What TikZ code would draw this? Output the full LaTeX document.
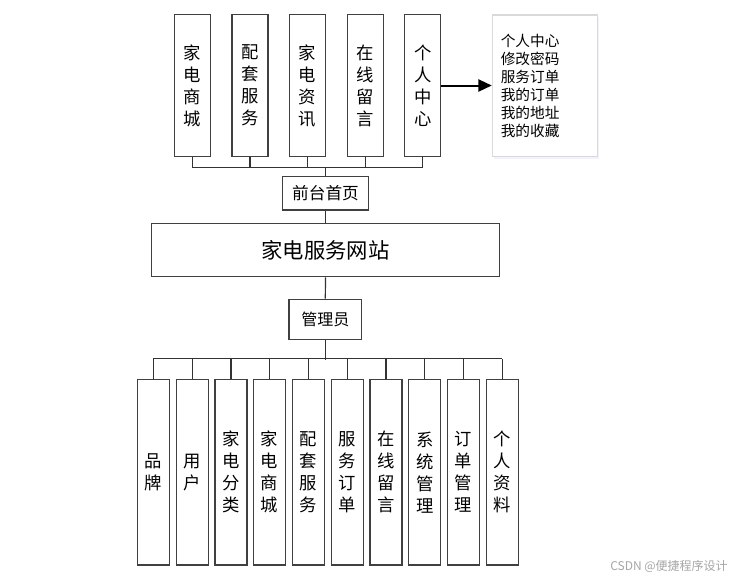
\documentclass[tikz,border=0pt]{standalone}
\usepackage{fontspec}
\newfontfamily\cjk{Noto Sans CJK SC}
\usetikzlibrary{arrows.meta,shadows}

\tikzset{
  line/.style={draw=black!80, line width=0.9pt},
  colbox/.style={draw=black!75, line width=0.9pt, fill=white, align=center, inner sep=0pt,
    font=\cjk\fontsize{13}{16.5}\selectfont},
  topbox/.style={colbox, minimum width=27pt, minimum height=107pt},
  lowbox/.style={colbox, minimum width=24pt, minimum height=139.3pt},
  pagebox/.style={draw=black!75, line width=0.9pt, inner sep=0pt, font=\cjk\fontsize{12.5}{15}\selectfont},
  infobox/.style={draw=black!15, line width=0.9pt, fill=white, drop shadow={opacity=0.12, fill=blue!40, shadow xshift=1.5pt, shadow yshift=-1.5pt},
    text width=66pt, inner xsep=6.3pt, minimum height=106.3pt, align=left,
    font=\cjk\fontsize{11}{13.5}\selectfont},
}

\begin{document}
\begin{tikzpicture}[x=0.75pt,y=-0.75pt]
\useasboundingbox[fill=white] (0,0) rectangle (746,579);

% front end
\node[topbox] (mall) at (192.3,85.5) {家\\电\\商\\城};
\node[topbox] (service) at (249.9,85.5) {配\\套\\服\\务};
\node[topbox] (news) at (307.5,85.5) {家\\电\\资\\讯};
\node[topbox] (board) at (365.1,85.5) {在\\线\\留\\言};
\node[topbox] (ucenter) at (422.7,85.5) {个\\人\\中\\心};

\node[infobox] (info) at (544.8,85.8) {个人中心\\修改密码\\服务订单\\我的订单\\我的地址\\我的收藏};

\node[pagebox, minimum width=64.2pt, minimum height=25pt] (front) at (325.5,193.4) {前台首页};

\node[pagebox, minimum width=260.7pt, minimum height=40pt, font=\cjk\fontsize{16}{18}\selectfont] (site) at (325.5,250) {家电服务网站};

\node[pagebox, minimum width=54.5pt, minimum height=30pt, font=\cjk\fontsize{12}{15}\selectfont] (admin) at (325.3,319.3) {管理员};

% back end
\node[lowbox] (brand) at (153.3,472.2) {品\\牌};
\node[lowbox] (user) at (192.1,472.2) {用\\户};
\node[lowbox] (cate) at (230.9,472.2) {家\\电\\分\\类};
\node[lowbox] (goods) at (269.6,472.2) {家\\电\\商\\城};
\node[lowbox] (kit) at (308.4,472.2) {配\\套\\服\\务};
\node[lowbox] (sorder) at (347.2,472.2) {服\\务\\订\\单};
\node[lowbox] (msg) at (386.0,472.2) {在\\线\\留\\言};
\node[lowbox] (sys) at (424.8,472.2) {系\\统\\管\\理};
\node[lowbox] (orders) at (463.5,472.2) {订\\单\\管\\理};
\node[lowbox] (profile) at (502.3,472.2) {个\\人\\资\\料};

% connectors
\draw[line] (mall.south) -- ++(0,10) coordinate (tl);
\draw[line] (service.south) -- ++(0,10);
\draw[line] (news.south) -- ++(0,10);
\draw[line] (board.south) -- ++(0,10);
\draw[line] (ucenter.south) -- ++(0,10) coordinate (tr);
\draw[line] (tl) -- (tr);
\draw[line] (front.north) -- (front.north |- tl);

\draw[-{Triangle[length=10pt,width=9pt]}, line width=1.5pt] (ucenter.east) -- (ucenter.east -| info.west);

\draw[line] (front.south) -- (site.north);
\draw[line] (site.south) -- (admin.north);
\draw[line] (admin.south) -- ++(0,20) coordinate (bus);

\draw[line] (brand.north) -- ++(0,-20) coordinate (bl);
\draw[line] (user.north) -- ++(0,-20);
\draw[line] (cate.north) -- ++(0,-20);
\draw[line] (goods.north) -- ++(0,-20);
\draw[line] (kit.north) -- ++(0,-20);
\draw[line] (sorder.north) -- ++(0,-20);
\draw[line] (msg.north) -- ++(0,-20);
\draw[line] (sys.north) -- ++(0,-20);
\draw[line] (orders.north) -- ++(0,-20);
\draw[line] (profile.north) -- ++(0,-20) coordinate (br);
\draw[line] (bl) -- (br);

\node[text=black!35, font=\cjk\fontsize{9}{10}\selectfont] (mark) at (669,566) {CSDN @便捷程序设计};

\end{tikzpicture}
\end{document}
